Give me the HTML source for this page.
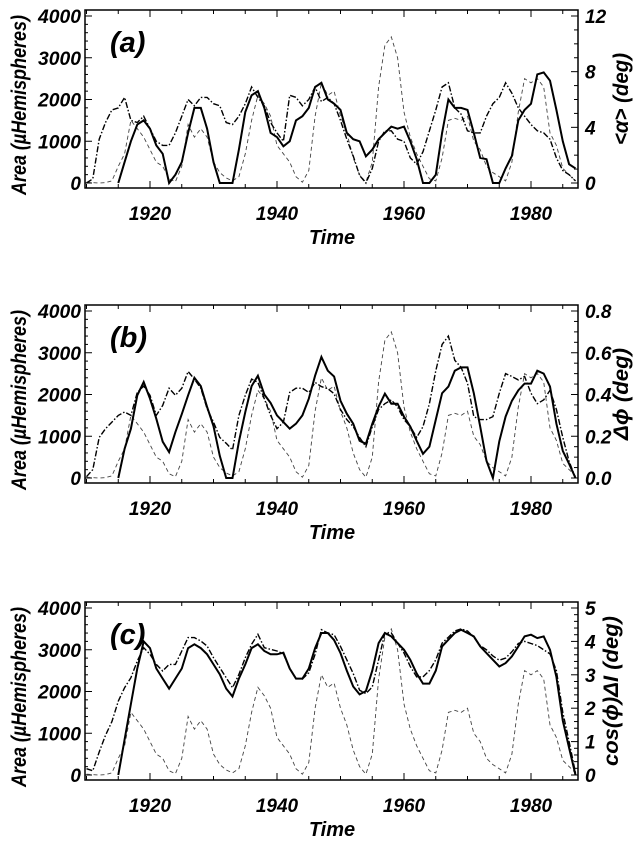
<!DOCTYPE html>
<html><head><meta charset="utf-8"><style>
body{margin:0;background:#fff}
svg text{font-family:"Liberation Sans",sans-serif;font-weight:bold;font-style:italic;fill:#000}
</style></head><body>
<svg id="chart" width="638" height="836" viewBox="0 0 638 836"></svg>
<script>
const years=[];for(let y=1910;y<=1987;y++)years.push(y);
const areaDashed=[20,10,0,10,50,400,700,1500,1300,1100,800,500,400,100,30,400,1400,1100,1300,1100,500,250,120,50,150,700,1500,2100,1900,1600,900,700,500,150,20,300,1600,2400,2100,2200,1600,1200,600,200,20,500,2300,3300,3500,3000,1700,1100,700,400,100,50,600,1500,1550,1500,1600,1000,800,400,250,150,50,500,1700,2500,2400,2500,2300,1200,900,350,200,50];
const aSolid=[null,null,null,null,null,0,500,1000,1400,1500,1300,900,700,0,200,500,1200,1800,1800,1300,500,0,0,0,800,1700,2100,2200,1800,1200,1100,880,1000,1500,1600,1800,2300,2400,2000,1900,1750,1200,1050,1000,640,800,1050,1200,1350,1300,1350,1000,570,0,0,200,1200,2000,1800,1800,1750,1200,600,570,0,0,350,650,1500,1750,1900,2600,2650,2450,1750,1000,450,350];
const aDashDot=[0,100,1050,1450,1750,1800,2050,1500,1450,1600,1300,1000,900,900,1200,1600,2000,1850,2050,2050,1900,1850,1450,1400,1600,1900,2300,2050,1850,1450,1200,1000,2100,2050,1850,2000,2300,1950,2050,1900,1500,1050,650,180,0,350,1000,1250,1250,1050,1000,600,450,750,1250,1750,2300,2400,1800,1650,1250,1200,1200,1600,1900,2050,2400,2150,1800,1600,1400,1250,1200,1050,600,300,200,50];
const bSolid=[null,null,null,null,null,0,700,1180,1980,2300,1900,1420,870,620,1100,1530,1980,2400,2200,1700,1240,530,0,0,870,1580,2200,2450,2000,1800,1500,1340,1180,1300,1500,1900,2450,2900,2570,2430,1850,1540,1300,890,820,1300,1710,2020,1780,1780,1470,1230,890,580,750,1400,2030,2190,2570,2650,2650,2030,1230,410,0,880,1470,1850,2100,2260,2260,2570,2500,2190,1300,650,340,0];
const bDashDot=[30,200,970,1180,1340,1500,1580,1500,2050,2200,1980,1500,1740,2150,1980,2150,2550,2370,2150,1660,1340,970,830,670,1500,1980,2370,2290,1900,1500,1180,1340,2050,2150,2150,2050,2290,2190,2140,2020,1640,1400,1230,970,750,1230,1640,1780,1870,1700,1400,1230,970,1230,1780,2570,3200,3400,2820,2650,2270,1470,1400,1400,1470,2030,2500,2430,2350,2430,2030,1780,1870,2100,1640,970,400,0];
const cSolid=[null,null,null,null,null,0,850,1700,2550,3200,3040,2550,2310,2070,2310,2550,3040,3130,3040,2890,2650,2410,2070,1880,2310,2650,3040,3130,2970,2890,2890,2930,2550,2310,2310,2550,3040,3400,3400,3230,2920,2500,2120,1930,2010,2500,3160,3400,3320,3160,3000,2760,2430,2190,2190,2500,3080,3240,3400,3480,3400,3320,3080,2920,2760,2600,2680,2840,3080,3320,3360,3280,3320,3000,2350,1300,650,0];
const cDashDot=[150,100,550,950,1280,1770,2090,2330,2730,3050,2890,2650,2490,2650,2650,2970,3290,3290,3210,3090,2810,2570,2330,2090,2410,2810,3130,3370,3050,3010,2970,2900,2550,2310,2300,2450,2890,3480,3400,3360,3080,2760,2430,2030,1950,2110,2760,3400,3400,3160,2920,2600,2350,2350,2500,2760,3160,3300,3450,3500,3450,3300,3100,3000,2850,2750,2800,2950,3150,3200,3150,3100,3000,2900,2500,1500,800,50];
const leftTicks=[0,1000,2000,3000,4000];
const xTickLabels=[1920,1940,1960,1980];
const panels=[
 {id:'a',top:10,solid:aSolid,dd:aDashDot,rLabels:['0','4','8','12'],rTitle:'<α> (deg)',rTitleX:628,rLen:92},
 {id:'b',top:305,solid:bSolid,dd:bDashDot,rLabels:['0.0','0.2','0.4','0.6','0.8'],rTitle:'Δϕ (deg)',rTitleX:628,rLen:92},
 {id:'c',top:602,solid:cSolid,dd:cDashDot,rLabels:['0','1','2','3','4','5'],rTitle:'cos(ϕ)ΔI (deg)',rTitleX:618,rLen:150}
];
const NS='http://www.w3.org/2000/svg';
const svg=document.getElementById('chart');
const L=85,R=578,H=178;
const xs=y=>86.5+(y-1910)*6.35;
function mk(tag,attrs,parent){const e=document.createElementNS(NS,tag);for(const k in attrs)e.setAttribute(k,attrs[k]);(parent||svg).appendChild(e);return e;}
panels.forEach(p=>{
 const g=mk('g',{});
 
 
 const ys=v=>p.top+6+(4000-v)/4000*167;
 const clip=mk('clipPath',{id:'clip'+p.id},g);
 mk('rect',{x:L,y:p.top,width:R-L,height:H},clip);
 const box=mk('rect',{x:L,y:p.top,width:R-L,height:H,fill:'none',stroke:'#000','stroke-width':1.5},g);
 
 
 for(let v=0;v<=4000;v+=200){const y=ys(v);const len=v%1000===0?7:3;
  mk('line',{x1:L,x2:L+len,y1:y,y2:y,stroke:'#000','stroke-width':1},g);}
 leftTicks.forEach(v=>{const t=mk('text',{x:L-4,y:ys(v)+7,'text-anchor':'end','font-size':19,textLength:43,lengthAdjust:'spacingAndGlyphs'},g);t.textContent=v;
  if(v<1000){t.removeAttribute('textLength');t.removeAttribute('lengthAdjust');}
  
  });
 const n=p.rLabels.length-1;
 const nm=n*(n<=3?4:(n==4?4:5));
 for(let i=0;i<=nm;i++){const y=ys(i/nm*4000);const len=i%(nm/n)===0?7:4;
  mk('line',{x1:R-len,x2:R,y1:y,y2:y,stroke:'#000','stroke-width':1},g);}
 p.rLabels.forEach((s,i)=>{const t=mk('text',{x:R+7,y:ys(i/n*4000)+7,'font-size':19},g);t.textContent=s;
  
  });
 for(let yr=1910;yr<=1985;yr+=5){const x=xs(yr);const len=yr%20===0?7:4;
  mk('line',{x1:x,x2:x,y1:p.top+H,y2:p.top+H-len,stroke:'#000'},g);
  mk('line',{x1:x,x2:x,y1:p.top,y2:p.top+len,stroke:'#000'},g);}
 xTickLabels.forEach(yr=>{const t=mk('text',{x:xs(yr),y:p.top+H+32,'text-anchor':'middle','font-size':19},g);t.textContent=yr;
  
  });
 const xt=mk('text',{x:332,y:p.top+H+56,'text-anchor':'middle','font-size':20},g);xt.textContent='Time';
 
 
 const yt=mk('text',{transform:`translate(26,${p.top+H/2+6}) rotate(-90)`,'text-anchor':'middle','font-size':21,textLength:180,lengthAdjust:'spacingAndGlyphs'},g);yt.textContent='Area (µHemispheres)';
 
 
 const rt=mk('text',{transform:`translate(${p.rTitleX},${p.top+H/2}) rotate(-90)`,'text-anchor':'middle','font-size':21,textLength:p.rLen,lengthAdjust:'spacingAndGlyphs'},g);rt.textContent=p.rTitle;
 
 
 const pl=mk('text',{x:110,y:p.top+42,'font-size':29},g);pl.textContent='('+p.id+')';
 
 
 function line(vals,style,name){let d='';let pen=false;
  vals.forEach((v,i)=>{if(v===null){pen=false;return;}d+=(pen?'L':'M')+xs(years[i]).toFixed(1)+','+ys(v).toFixed(1);pen=true;});
  const e=mk('path',Object.assign({d:d,fill:'none','clip-path':`url(#clip${p.id})`},style),g);
  
  }
 line(areaDashed,{stroke:'#444','stroke-width':0.9,'stroke-dasharray':'4,3'},'sunspot-area-line');
 line(p.dd,{stroke:'#000','stroke-width':1.4,'stroke-dasharray':'6,2,1.5,2'},'dash-dot-series');
 line(p.solid,{stroke:'#000','stroke-width':2},'solid-series');
});
</script>
</body></html>
